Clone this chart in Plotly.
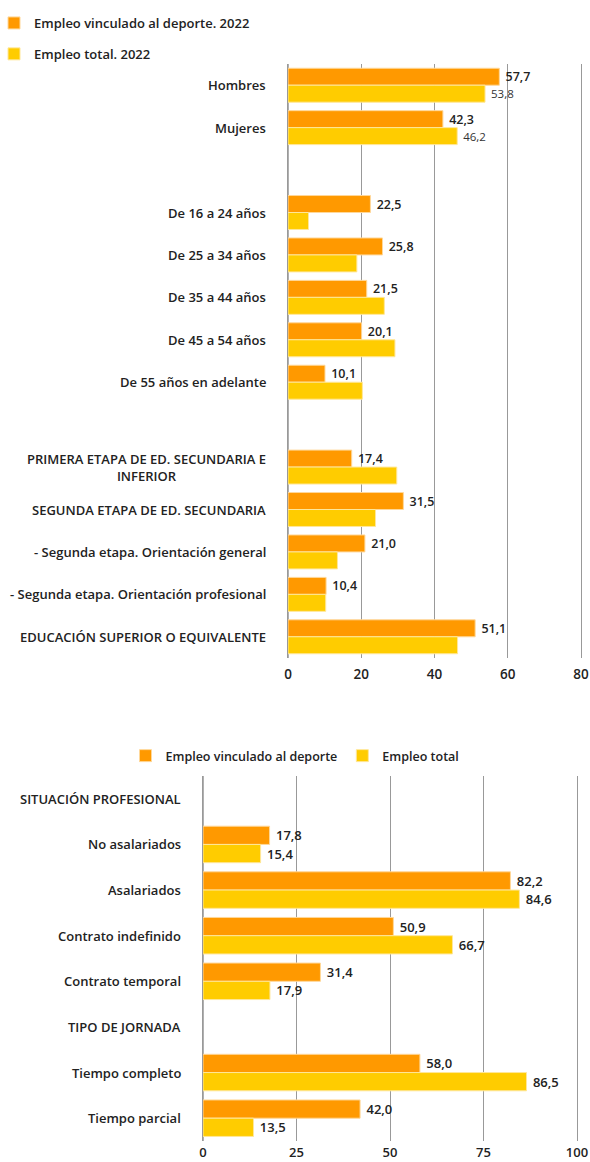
import plotly.graph_objects as go

# ---------------- data ----------------
top_categories = [
    "Hombres", "Mujeres", " ",
    "De 16 a 24 años", "De 25 a 34 años", "De 35 a 44 años", "De 45 a 54 años",
    "De 55 años en adelante", "  ",
    "PRIMERA ETAPA DE ED. SECUNDARIA E<br>INFERIOR",
    "SEGUNDA ETAPA DE ED. SECUNDARIA",
    "- Segunda etapa. Orientación general",
    "- Segunda etapa. Orientación profesional",
    "EDUCACIÓN SUPERIOR O EQUIVALENTE",
]
top_sport = [57.7, 42.3, None, 22.5, 25.8, 21.5, 20.1, 10.1, None, 17.4, 31.5, 21.0, 10.4, 51.1]
top_total = [53.8, 46.2, None, 5.6, 18.8, 26.3, 29.2, 20.3, None, 29.7, 23.9, 13.5, 10.3, 46.3]
top_total_labels = ["53,8", "46,2", "", "", "", "", "", "", "", "", "", "", "", ""]
top_ticks = [0, 20, 40, 60, 80]

bot_categories = [
    "SITUACIÓN PROFESIONAL", "No asalariados", "Asalariados", "Contrato indefinido",
    "Contrato temporal", "TIPO DE JORNADA", "Tiempo completo", "Tiempo parcial",
]
bot_sport = [None, 17.8, 82.2, 50.9, 31.4, None, 58.0, 42.0]
bot_total = [None, 15.4, 84.6, 66.7, 17.9, None, 86.5, 13.5]
bot_ticks = [0, 25, 50, 75, 100]

ORANGE = "#FF9900"
YELLOW = "#FFCC00"
FONT = "Open Sans"
W, H = 590, 1162
NB = "\u00a0"

fig = go.Figure()

# top chart
fig.add_trace(go.Bar(
    y=top_categories, x=top_sport, orientation="h", name="Empleo vinculado al deporte. 2022",
    marker=dict(color=ORANGE, line=dict(color="#FFD89A", width=1)),
    texttemplate=NB + "%{x:.1f}", textposition="outside", cliponaxis=False,
    textfont=dict(family=FONT, size=12.5, color="#222", weight=600),
    xaxis="x", yaxis="y", legend="legend", legendgroup="a",
))
fig.add_trace(go.Bar(
    y=top_categories, x=top_total, orientation="h", name="Empleo total. 2022",
    marker=dict(color=YELLOW, line=dict(color="#FFE79A", width=1)),
    text=[(NB + t) if t else "" for t in top_total_labels], textposition="outside",
    cliponaxis=False,
    textfont=dict(family=FONT, size=11.5, color="#333"),
    xaxis="x", yaxis="y", legend="legend", legendgroup="b",
))

# bottom chart
fig.add_trace(go.Bar(
    y=bot_categories, x=bot_sport, orientation="h", name="Empleo vinculado al deporte",
    marker=dict(color=ORANGE, line=dict(color="#FFD89A", width=1)),
    texttemplate=NB + "%{x:.1f}", textposition="outside", cliponaxis=False,
    textfont=dict(family=FONT, size=13, color="#222", weight=600),
    xaxis="x2", yaxis="y2", legend="legend2",
))
fig.add_trace(go.Bar(
    y=bot_categories, x=bot_total, orientation="h", name="Empleo total",
    marker=dict(color=YELLOW, line=dict(color="#FFE79A", width=1)),
    texttemplate=NB + "%{x:.1f}", textposition="outside", cliponaxis=False,
    textfont=dict(family=FONT, size=13, color="#222", weight=600),
    xaxis="x2", yaxis="y2", legend="legend2",
))

# category labels as annotations (right aligned, centred lines)
annotations = []
for c in top_categories:
    if c.strip():
        annotations.append(dict(
            x=268 / W, xref="paper", xanchor="right", y=c, yref="y", yanchor="middle",
            text=c, showarrow=False, align="center",
            font=dict(family=FONT, size=13, color="#222", weight=600),
        ))
for c in bot_categories:
    annotations.append(dict(
        x=183 / W, xref="paper", xanchor="right", y=c, yref="y2", yanchor="middle",
        text=c, showarrow=False, align="right",
        font=dict(family=FONT, size=13, color="#222", weight=600),
    ))

grid = "#999999"
axis_common = dict(showgrid=True, gridcolor=grid, gridwidth=1, zeroline=True,
                   zerolinecolor="#b0b0b0", zerolinewidth=1, showline=False, ticks="",
                   ticklabeloverflow="allow")
yaxis_common = dict(autorange="reversed", showticklabels=False, showgrid=False,
                    zeroline=False, ticks="", showline=True, mirror=True,
                    linecolor=grid, linewidth=1)
fig.update_layout(
    width=W, height=H, margin=dict(l=0, r=0, t=0, b=0, autoexpand=False),
    plot_bgcolor="white", paper_bgcolor="white",
    separators=",.",
    barmode="group", bargap=0.2, bargroupgap=0.0,
    font=dict(family=FONT, color="#222"),
    xaxis=dict(domain=[288 / W, 581 / W], range=[0, 80], tickvals=top_ticks,
               anchor="y", ticklabelstandoff=6,
               tickfont=dict(family=FONT, size=13.5, color="#222", weight=600),
               **axis_common),
    yaxis=dict(domain=[1 - 658 / H, 1 - 64 / H], anchor="x", **yaxis_common),
    xaxis2=dict(domain=[203 / W, 577 / W], range=[0, 100], tickvals=bot_ticks,
                anchor="y2", ticklabelstandoff=2,
                tickfont=dict(family=FONT, size=13, color="#222", weight=600),
                **axis_common),
    yaxis2=dict(domain=[1 - 1141 / H, 1 - 776 / H], anchor="x2", **yaxis_common),
    legend=dict(x=-6 / W, xanchor="left", y=1 - 8 / H, yanchor="top",
                orientation="v", traceorder="grouped", tracegroupgap=11,
                itemwidth=30, bgcolor="rgba(0,0,0,0)",
                font=dict(family=FONT, size=13, color="#222", weight=600)),
    legend2=dict(x=0.5, xanchor="center", y=1 - 741 / H, yanchor="top",
                 orientation="h", itemwidth=30, bgcolor="rgba(0,0,0,0)",
                 font=dict(family=FONT, size=12.5, color="#222", weight=600)),
    annotations=annotations,
)

fig.write_html(
    "out.html",
    post_script="document.body.style.margin='0';document.body.style.overflow='hidden';",
)
